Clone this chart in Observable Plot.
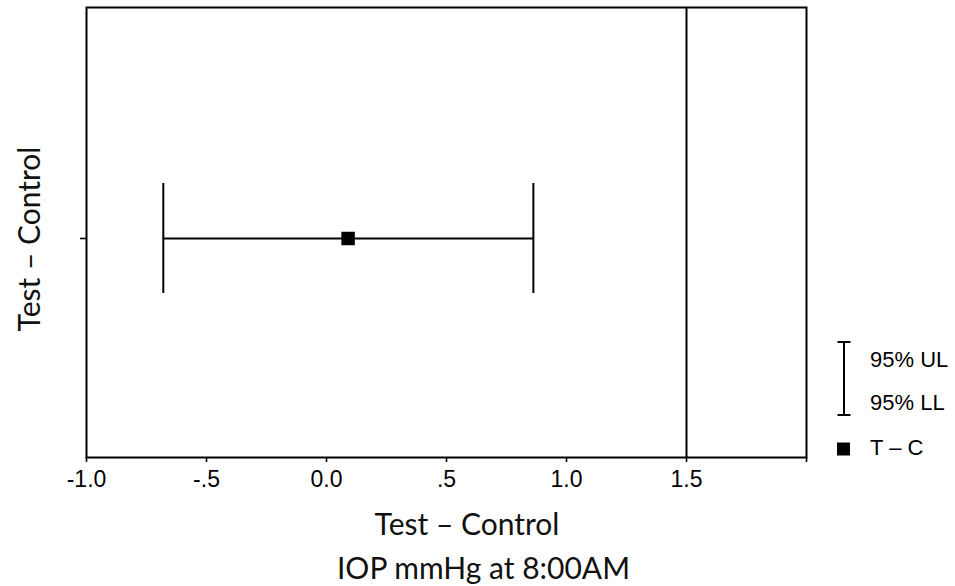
<!DOCTYPE html>
<html><head><meta charset="utf-8">
<script src="https://cdn.jsdelivr.net/npm/d3@7"></script>
<script src="https://cdn.jsdelivr.net/npm/@observablehq/plot@0.6"></script>
<style>
body{margin:0;background:#fff;}
#wrap{position:relative;width:955px;height:586px;overflow:hidden;background:#fff;}
#overlay{position:absolute;left:0;top:0;}
</style></head><body><div id="wrap"></div>
<script>
const categories = ["Test – Control"];
const estimate = [0.09];
const lower95 = [-0.68];
const upper95 = [0.862];
const referenceLine = [1.5];
const xDomain = [-1, 2];
const xTicks = [-1, -0.5, 0, 0.5, 1, 1.5, 2];
const xTickLabels = ["-1.0", "-.5", "0.0", ".5", "1.0", "1.5", ""];
const xTitle = "Test – Control";
const xSubtitle = "IOP mmHg at 8:00AM";
const yTitle = "Test – Control";
const legendLabels = ["95% UL", "95% LL", "T – C"];

const rows = categories.map((c, i) => ({c, est: estimate[i], lo: lower95[i], hi: upper95[i]}));

const chart = Plot.plot({
  width: 955, height: 500,
  marginLeft: 86, marginRight: 149, marginTop: 7, marginBottom: 43,
  style: {fontFamily: '"Liberation Sans", Arial, sans-serif', color: "black", background: "white"},
  x: {domain: xDomain},
  y: {domain: categories, paddingInner: 0, paddingOuter: 1.545, align: 0.518},
  marks: [
    Plot.frame({stroke: "black", strokeWidth: 2}),
    Plot.ruleX(referenceLine, {stroke: "black", strokeWidth: 2}),
    Plot.ruleY(rows, {y: "c", x1: "lo", x2: "hi", stroke: "black", strokeWidth: 2}),
    Plot.tickX(rows, {x: "lo", y: "c", stroke: "black", strokeWidth: 2}),
    Plot.tickX(rows, {x: "hi", y: "c", stroke: "black", strokeWidth: 2}),
    Plot.dot(rows, {x: "est", y: "c", symbol: "square", fill: "black", stroke: "none", r: 7.6}),
    Plot.axisX({ticks: xTicks, tickFormat: d => xTickLabels[xTicks.indexOf(d)], tickSize: 5, tickPadding: 8, strokeWidth: 1.6, fontSize: 23, label: null}),
    Plot.axisY({tickFormat: () => "", tickSize: 6, strokeWidth: 1.6, label: null})
  ]
});
const wrap = document.getElementById("wrap");
chart.style.position = "absolute"; chart.style.left = "0"; chart.style.top = "0";
wrap.appendChild(chart);

// titles and legend overlay
const ns = "http://www.w3.org/2000/svg";
const ov = document.createElementNS(ns, "svg");
ov.setAttribute("id", "overlay");
ov.setAttribute("width", 955); ov.setAttribute("height", 586);
ov.innerHTML = `
<g font-family="Lato, 'Open Sans', sans-serif" font-size="30" fill="#111" text-anchor="middle">
  <text x="467" y="535">${xTitle}</text>
  <text x="483.5" y="579">${xSubtitle}</text>
  <text transform="translate(39.5,239) rotate(-90)">${yTitle}</text>
</g>
<g stroke="black" stroke-width="2" fill="none">
  <line x1="844" x2="844" y1="342" y2="415"/>
  <line x1="837.5" x2="850.5" y1="342" y2="342"/>
  <line x1="837.5" x2="850.5" y1="415" y2="415"/>
</g>
<rect x="837" y="442.5" width="13" height="13" fill="black"/>
<g font-family="Liberation Sans, Arial, sans-serif" font-size="22" fill="black">
  <text x="870" y="366.5">${legendLabels[0]}</text>
  <text x="870" y="410">${legendLabels[1]}</text>
  <text x="870" y="455">${legendLabels[2]}</text>
</g>`;
wrap.appendChild(ov);
</script>
</body></html>
